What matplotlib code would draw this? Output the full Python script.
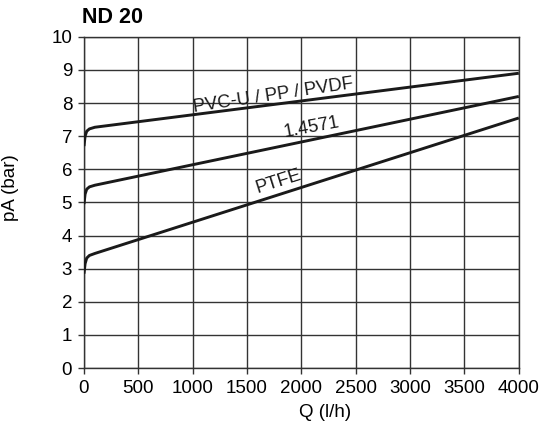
import matplotlib.pyplot as plt

plt.rcParams['font.family'] = ['Liberation Sans', 'DejaVu Sans']

# flow Q (l/h) and pressure pA (bar) per material
q = [0, 10, 25, 50, 100, 4000]
pvc = [6.7, 7.0, 7.15, 7.22, 7.27, 8.9]
steel = [4.95, 5.25, 5.4, 5.47, 5.52, 8.2]
ptfe = [2.85, 3.15, 3.32, 3.4, 3.46, 7.55]

labels = ['PVC-U / PP / PVDF', '1.4571', 'PTFE']
label_pos = [(1740, 8.22, 8.5), (2090, 7.27, 10.5), (1790, 5.62, 17.5)]

fig = plt.figure(figsize=(5.49, 4.28), dpi=100)
ax = fig.add_axes([0.153, 0.14, 0.792, 0.774])

for y in [pvc, steel, ptfe]:
    ax.plot(q, y, color='#1a1a1a', lw=2.1, solid_capstyle='butt', zorder=3)

for txt, (x, y, rot) in zip(labels, label_pos):
    ax.text(x, y, txt, fontsize=13.3, rotation=rot, ha='center', va='center',
            rotation_mode='anchor', color='#1a1a1a')

ax.set_xlim(0, 4000)
ax.set_ylim(0, 10)
ax.set_xticks(range(0, 4001, 500))
ax.set_yticks(range(0, 11))
ax.grid(True, color='#333333', lw=1.0)
for s in ax.spines.values():
    s.set_color('#333333')
    s.set_linewidth(1.0)
ax.tick_params(labelsize=13.5, length=4.5, width=1.0, color='#333333', pad=4)
ax.set_xlabel('Q (l/h)', fontsize=13.5, va='top')
ax.set_ylabel('pA (bar)', fontsize=13.5)
ax.xaxis.set_label_coords(0.554, -0.108)
ax.yaxis.set_label_coords(-0.150, 0.544)
fig.text(0.149, 0.958, 'ND 20', fontsize=15.5, fontweight='bold', va='center')

plt.savefig('out.png', dpi=100)
